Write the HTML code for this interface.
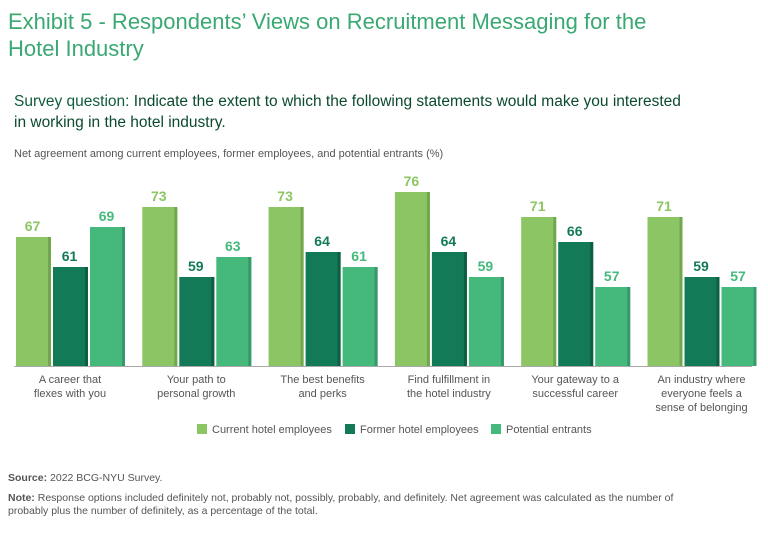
<!DOCTYPE html>
<html><head><meta charset="utf-8"><style>
body{margin:0;width:768px;height:538px;background:#fff;font-family:"Liberation Sans",sans-serif;position:relative;overflow:hidden}
.t{position:absolute;margin:0}
</style></head><body>
<div class="t" style="left:8px;top:8px;font-size:22px;line-height:27px;color:#3aa872;width:675px">Exhibit 5 - Respondents’ Views on Recruitment Messaging for the Hotel Industry</div>
<div class="t" style="left:14px;top:91px;font-size:15.5px;line-height:21px;color:#0e5c3a;width:672px">Survey question: <span style="color:#0b4a2c">Indicate the extent to which the following statements would make you interested in working in the hotel industry.</span></div>
<div class="t" style="left:14px;top:148px;font-size:11px;color:#555">Net agreement among current employees, former employees, and potential entrants (%)</div>
<svg id="chart" width="768" height="538" style="position:absolute;left:0;top:0"></svg>
<div class="t" style="left:8px;top:472px;font-size:10.5px;color:#555"><b>Source:</b> 2022 BCG-NYU Survey.</div>
<div class="t" style="left:8px;top:492px;font-size:10.5px;line-height:13px;color:#555;width:755px;white-space:nowrap"><b>Note:</b> Response options included definitely not, probably not, possibly, probably, and definitely. Net agreement was calculated as the number of<br>probably plus the number of definitely, as a percentage of the total.</div>
<script>
const categories=[["A career that","flexes with you"],["Your path to","personal growth"],["The best benefits","and perks"],["Find fulfillment in","the hotel industry"],["Your gateway to a","successful career"],["An industry where","everyone feels a","sense of belonging"]];
const current=[67,73,73,76,71,71];
const former=[61,59,64,64,66,59];
const potential=[69,63,61,59,57,57];
const seriesNames=["Current hotel employees","Former hotel employees","Potential entrants"];
const colors=["#8cc563","#137a57","#45b97c"];
const shade=["#72a84d","#0d5e42","#36996a"];
const svg=document.getElementById('chart');
const NS="http://www.w3.org/2000/svg";
const base=366,vmin=41.2,k=5.0;
const y=v=>base-(v-vmin)*k;
const gx=i=>16+i*126.3;
function mk(t,a){const e=document.createElementNS(NS,t);for(const q in a)e.setAttribute(q,a[q]);svg.appendChild(e);return e;}
[current,former,potential].forEach((s,si)=>{
 s.forEach((v,i)=>{
  const x=gx(i)+si*37,w=35;
  const r=mk('rect',{x:x,y:y(v),width:w,height:base-y(v),fill:colors[si]});
  
  
  const sh=mk('rect',{x:x+w-3,y:y(v),width:3,height:base-y(v),fill:shade[si]});
  
  
  const tx=mk('text',{x:x+w/2-1,y:y(v)-6,'text-anchor':'middle','font-size':14,'font-weight':'bold',fill:colors[si],'font-family':'Liberation Sans'});
  tx.textContent=v;
  
  
 });
});
const ax=mk('line',{x1:14,x2:752,y1:base+0.5,y2:base+0.5,stroke:'#aaa','stroke-width':1});


categories.forEach((c,i)=>{
 c.forEach((l,j)=>{
  const t=mk('text',{x:gx(i)+54,y:383+j*14,'text-anchor':'middle','font-size':11,fill:'#555','font-family':'Liberation Sans'});
  t.textContent=l;
  
  
 });
});
const lx=[197,345,491];
seriesNames.forEach((n,i)=>{
 const r=mk('rect',{x:lx[i],y:424,width:10,height:10,fill:colors[i]});
 
 
 const t=mk('text',{x:lx[i]+15,y:433,'font-size':11,fill:'#555','font-family':'Liberation Sans'});
 t.textContent=n;
 
 
});
</script>
</body></html>
